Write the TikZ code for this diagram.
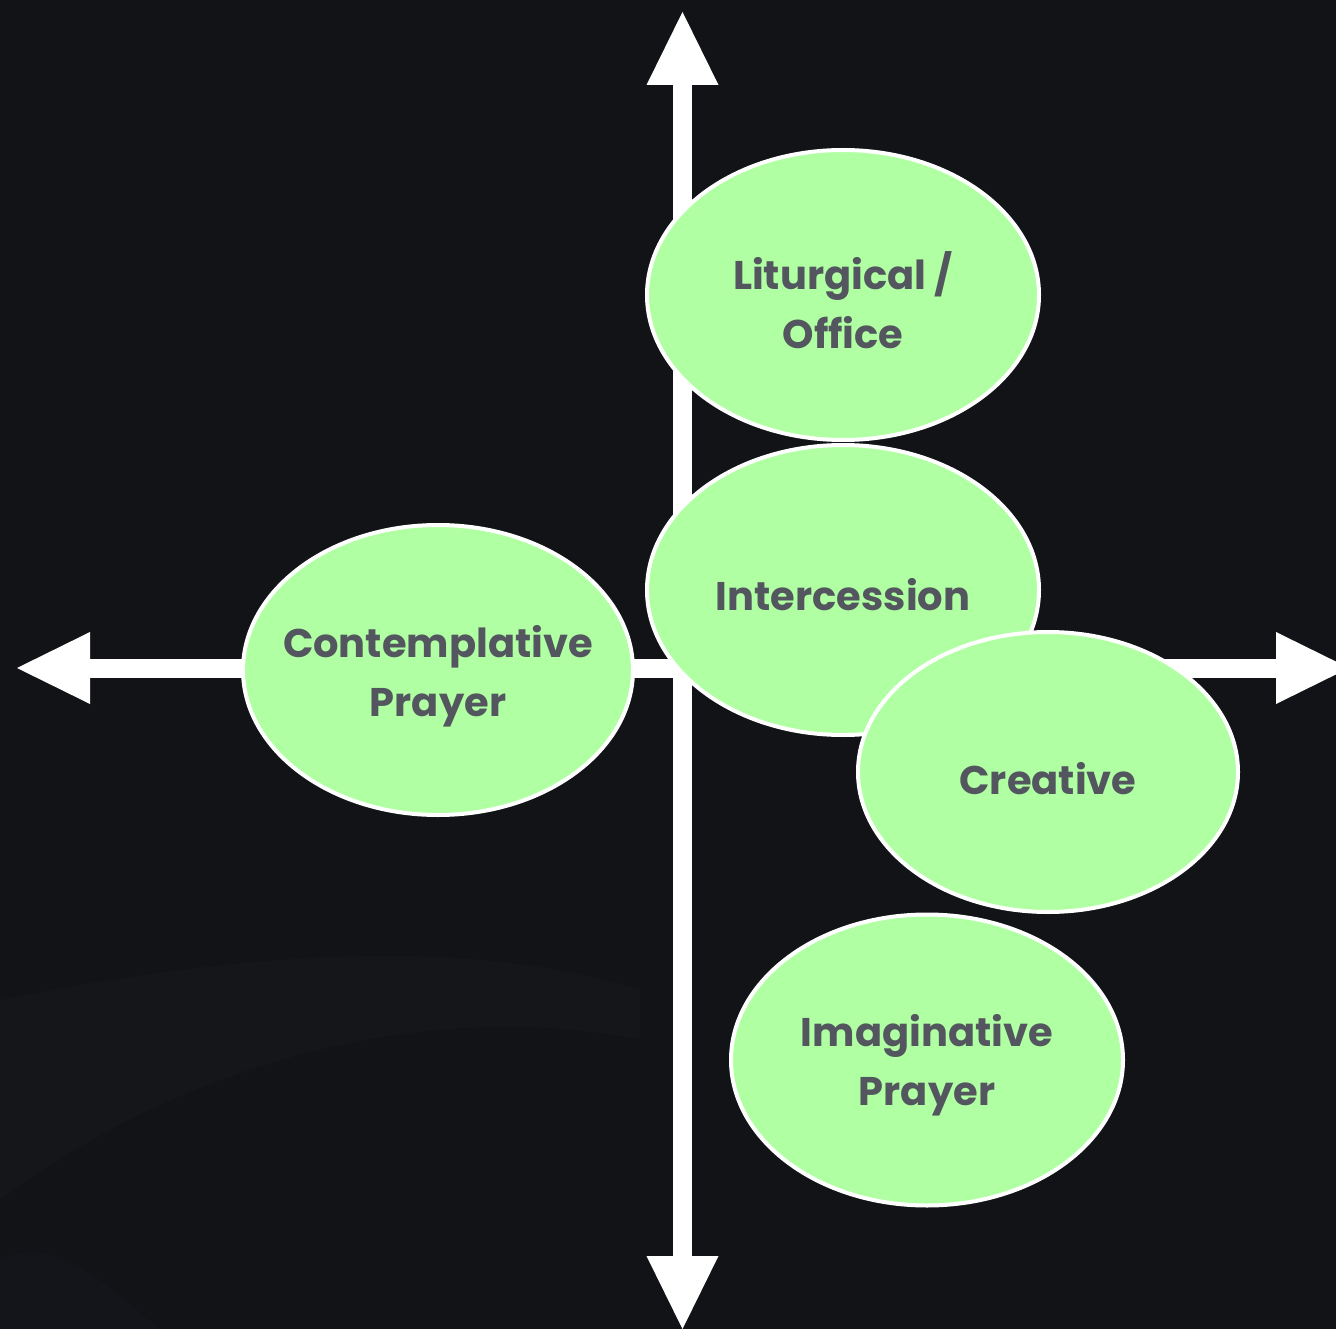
\documentclass[tikz,border=0pt]{standalone}
\usepackage{fontspec}
\setmainfont{Poppins}
\usetikzlibrary{shapes.geometric,arrows.meta}
\definecolor{bgdark}{HTML}{111317}
\definecolor{bgsoft}{HTML}{1A1C21}
\definecolor{leaf}{HTML}{B0FFA3}
\definecolor{ink}{HTML}{53565E}
\tikzset{
  axis/.style={draw=white, line width=19pt,
    {Triangle[width=72pt,length=73pt,line width=0pt]}-{Triangle[width=72pt,length=73pt,line width=0pt]}},
  bubble/.style={ellipse, draw=white, line width=4pt, fill=leaf, inner sep=0pt, outer sep=0pt},
  label text/.style={text=ink, align=center, inner sep=0pt, font=\fontsize{40}{59}\selectfont\bfseries},
}
\begin{document}
\begin{tikzpicture}[x=1pt,y=-1pt]
  \fill[bgdark] (0,0) rectangle (1336,1329);
  \useasboundingbox (0,0) rectangle (1336,1329);
  % faint background shapes
  \fill[bgsoft, opacity=0.35] (0,1000) .. controls (200,960) and (450,930) .. (640,990) -- (640,1040) .. controls (450,1000) and (200,1050) .. (0,1200) -- cycle;
  \fill[bgsoft, opacity=0.3] (0,1260) .. controls (60,1230) and (120,1300) .. (160,1329) -- (0,1329) -- cycle;
  \coordinate (top) at (682.5,12);
  \coordinate (bottom) at (682.5,1329);
  \coordinate (left) at (17,668);
  \coordinate (right) at (1349,668);
  \draw[axis] (bottom) -- (top);
  \draw[axis] (left) -- (right);
  \node[bubble, minimum width=392pt, minimum height=290pt] (lit) at (843,295) {};
  \node[bubble, minimum width=392pt, minimum height=290pt] (int) at (843,590) {};
  \node[bubble, minimum width=390pt, minimum height=290pt] (con) at (438,670) {};
  \node[bubble, minimum width=380pt, minimum height=280pt] (cre) at (1048,772) {};
  \node[bubble, minimum width=392pt, minimum height=291pt] (ima) at (927,1060) {};
  \node[label text] (litT) at ([yshift=-5pt]lit.center) {Liturgical /\\Office};
  \node[label text] (intT) at ([yshift=-5pt]int.center) {Intercession};
  \node[label text] (conT) at ([yshift=-6pt]con.center) {Contemplative\\Prayer};
  \node[label text] (creT) at ([yshift=-7pt]cre.center) {Creative};
  \node[label text] (imaT) at ([yshift=-5pt]ima.center) {Imaginative\\Prayer};
\end{tikzpicture}
\end{document}
